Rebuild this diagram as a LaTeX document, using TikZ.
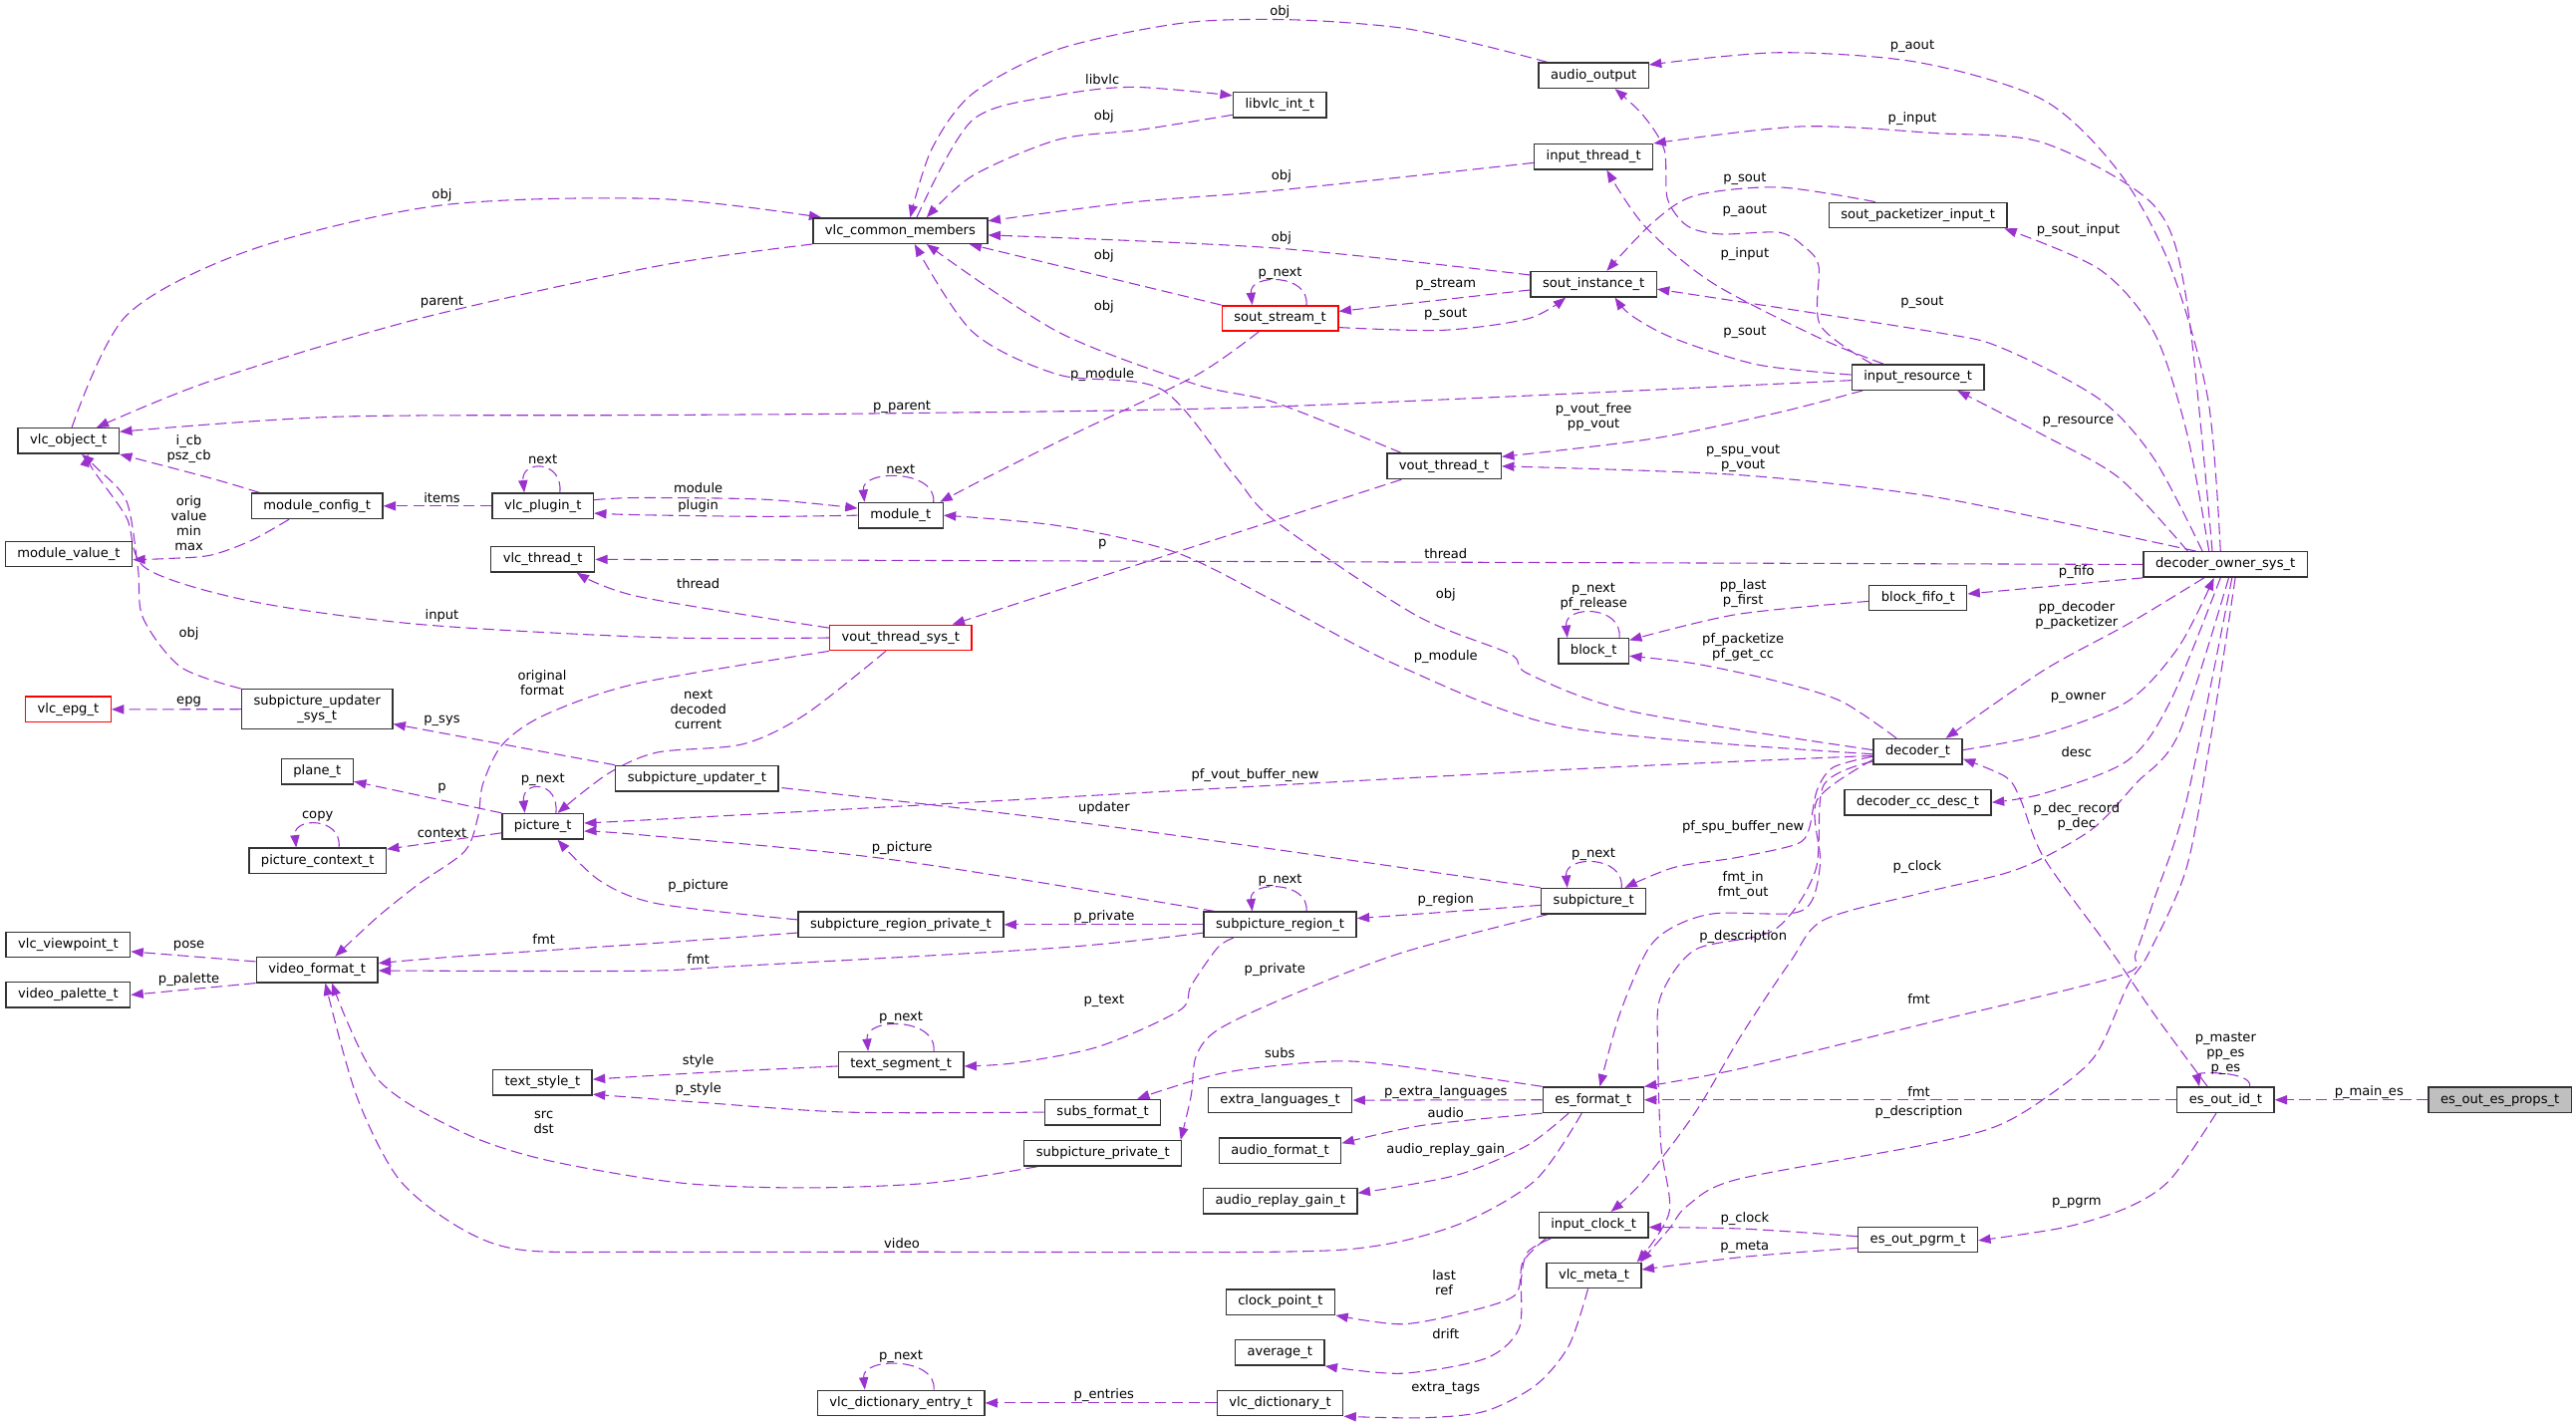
\documentclass[tikz,border=0pt]{standalone}
\usepackage{fontspec}
\setmainfont{DejaVu Sans}
\usetikzlibrary{arrows.meta, backgrounds}
\definecolor{cedge}{HTML}{9A32CD}
\definecolor{cframe}{HTML}{333333}
\definecolor{cred}{HTML}{FF0000}
\definecolor{cgrey}{HTML}{BFBFBF}
\tikzset{
  cls/.style={draw=#1, fill=white, line width=0.85pt, inner xsep=7.3pt, inner ysep=0pt, minimum height=15.4pt, text height=6pt, text depth=1.9pt, align=center},
  cls/.default=cframe,
  ref/.style={draw=cedge, line width=0.65pt, dash pattern=on 6.9pt off 3.3pt, -{Triangle[length=7.5pt, width=5.6pt]}},
  lbl/.style={inner sep=0pt, align=center},
}
\begin{document}
\begin{tikzpicture}[x=1pt, y=-1pt, font=\fontsize{7.95}{9.1}\selectfont]
  \useasboundingbox (0,0) rectangle (1568,867.4);
  % classes
  \foreach \n/\x/\y/\t in {aout/970/46/audio\_output, libvlc/779/63.8/libvlc\_int\_t, inthr/970/95.4/input\_thread\_t,
    vcm/548/140.5/vlc\_common\_members, spi/1167.4/131/sout\_packetizer\_input\_t, sinst/970/173/sout\_instance\_t,
    ires/1167.4/229.6/input\_resource\_t, vobj/41.7/268.4/vlc\_object\_t, vout/879/283.8/vout\_thread\_t,
    mconf/193/308/module\_config\_t, plugin/330.4/308/vlc\_plugin\_t, module/548.2/313.7/module\_t,
    mval/41.8/337.3/module\_value\_t, vthr/330.4/340.5/vlc\_thread\_t, dos/1354.6/343.6/decoder\_owner\_sys\_t,
    bfifo/1167.5/364/block\_fifo\_t, block/970/396.3/block\_t, dec/1167.4/457.5/decoder\_t,
    plane/193.1/469.7/plane\_t, supd/424.2/473.8/subpicture\_updater\_t, ccdesc/1167.4/488.4/decoder\_cc\_desc\_t,
    pic/330.4/503/picture\_t, picctx/193.3/524/picture\_context\_t, subpic/970/548.5/subpicture\_t,
    regpriv/548.3/562.8/subpicture\_region\_private\_t, region/779.2/562.8/subpicture\_region\_t,
    viewp/41.5/575/vlc\_viewpoint\_t, vfmt/193/590.3/video\_format\_t, palette/41.5/605.6/video\_palette\_t,
    tseg/548.4/648/text\_segment\_t, tstyle/330.2/659/text\_style\_t, xlang/779.2/669.7/extra\_languages\_t,
    esfmt/969.8/669.5/es\_format\_t, esid/1354.7/669.5/es\_out\_id\_t, subsfmt/671.2/677/subs\_format\_t,
    afmt/779.2/700.5/audio\_format\_t, spriv/671.3/702/subpicture\_private\_t, again/779.3/731/audio\_replay\_gain\_t,
    iclock/970/745.7/input\_clock\_t, pgrm/1167.4/754.6/es\_out\_pgrm\_t, meta/970.2/776.4/vlc\_meta\_t,
    cpoint/779.4/792.5/clock\_point\_t, avg/779/823.4/average\_t, dentry/548.4/854/vlc\_dictionary\_entry\_t,
    dict/779.2/854/vlc\_dictionary\_t}
    \node[cls] (\n) at (\x,\y) {\t};
  \foreach \n/\x/\y/\t in {sstream/779.2/193.8/sout\_stream\_t, voutsys/548.2/388.2/vout\_thread\_sys\_t, epg/41.5/431.8/vlc\_epg\_t}
    \node[cls=cred] (\n) at (\x,\y) {\t};
  \node[cls, fill=cgrey] (props) at (1521.7,669.5) {es\_out\_es\_props\_t};
  \node[cls, text height=, text depth=, minimum height=24.2pt] (supdsys) at (193,431.7) {subpicture\_updater\\\_sys\_t};

  \begin{scope}[on background layer]
  % vlc_common_members and vlc_object_t
  \draw[ref] plot[smooth] coordinates {([xshift=-28pt]aout.north) (904,28) (853,17) (786,12) (720,14) (644,30) (592,57) (567,91) ([xshift=6pt]vcm.north)} node[lbl] at (779,7) {obj};
  \draw[ref] plot[smooth] coordinates {([xshift=10pt]vcm.north) (592,73) (644,58) (690,53) ([yshift=-2.5pt]libvlc.north west)} node[lbl] at (671,48) {libvlc};
  \draw[ref] plot[smooth] coordinates {([yshift=2pt]libvlc.south west) (694,79) (644,85) (592,107) ([xshift=16pt]vcm.north)} node[lbl] at (672,71) {obj};
  \draw[ref] plot[smooth] coordinates {([yshift=-3.7pt]inthr.west) (776,116) (690,123) ([yshift=6pt]vcm.east)} node[lbl] at (780,107) {obj};
  \draw[ref] plot[smooth] coordinates {([yshift=5.6pt]sinst.west) (776,151) ([yshift=-2.6pt]vcm.east)} node[lbl] at (780,145) {obj};
  \draw[ref] (sstream.north west) -- ([xshift=42pt]vcm.south) node[lbl] at (672,156) {obj};
  \draw[ref] plot[smooth] coordinates {([xshift=-26pt]vout.north) (776,245) (728,234) (644,202) ([xshift=16pt]vcm.south)} node[lbl] at (672,187) {obj};
  \draw[ref] plot[smooth] coordinates {([yshift=1pt]dec.west) (993,433) (930,410) (919,398) (861,374) (776,317) (751,289) (707,237) (644,228) (592,202) ([xshift=8.7pt]vcm.south)} node[lbl] at (880,362) {obj};
  \draw[ref] plot[smooth] coordinates {([xshift=2pt]vobj.north) (77,192) (153,152) (268,125) (400,121) ([xshift=-48pt]vcm.north)} node[lbl] at (269,119) {obj};
  \draw[ref] plot[smooth] coordinates {(vcm.south west) (400,162) (255,194) (128,232) ([xshift=17pt]vobj.north)} node[lbl] at (269,184) {parent};
  \draw[ref] plot[smooth] coordinates {([yshift=-1.9pt]ires.west) (776,247.5) (549,251.5) (388,252.7) (204,253.7) ([yshift=5.6pt]vobj.east)} node[lbl] at (549,248) {p\_parent};
  \draw[ref] plot[smooth] coordinates {([xshift=-35pt]mconf.north) (128,291) (vobj.south east)} node[lbl] at (115,273.5) {i\_cb\\psz\_cb};
  \draw[ref] plot[smooth] coordinates {([xshift=-17pt]mconf.south) (153,329) (128,338) (102,340) ([yshift=-3.4pt]mval.east)} node[lbl] at (115,318.5) {orig\\value\\min\\max};
  \draw[ref] plot[smooth] coordinates {(supdsys.north west) (110,406) (87,376) (84,346) (77,305) (59,285) ([xshift=8pt]vobj.south)} node[lbl] at (115,386) {obj};
  \draw[ref] plot[smooth] coordinates {(voutsys.west) (400,388) (255,380) (153,366) (89,346) (77,315) (56,285) ([xshift=12pt]vobj.south)} node[lbl] at (269,375) {input};
  % modules
  \draw[ref] (plugin.west) -- (mconf.east) node[lbl] at (269,303) {items};
  \draw[ref] plot[smooth] coordinates {([yshift=3.7pt]plugin.east) (388,303) (465,304) ([yshift=4.3pt]module.west)} node[lbl] at (425,297) {module};
  \draw[ref] plot[smooth] coordinates {(module.west) (465,314.4) (388,313.4) ([yshift=-4.4pt]plugin.east)} node[lbl] at (425,308) {plugin};
  \draw[ref] plot[smooth] coordinates {([xshift=-13pt]sstream.south) (728,228.5) (656,263) (600,291) ([xshift=24pt]module.north)} node[lbl] at (671,228) {p\_module};
  \draw[ref] plot[smooth] coordinates {([yshift=-1.5pt]dec.west) (955,443) (853,406) (776,366) (715,336) (644,320) (module.east)} node[lbl] at (880,400) {p\_module};
  % vout
  \draw[ref] ([xshift=-26pt]vout.south) -- ([xshift=31.5pt]voutsys.north) node[lbl] at (671,331) {p};
  \draw[ref] plot[smooth] coordinates {([yshift=6pt]voutsys.west) (388,363) ([xshift=20.6pt]vthr.south)} node[lbl] at (425,355) {thread};
  \draw[ref] (dos.west) -- (vthr.east) node[lbl] at (880,337) {thread};
  \draw[ref] plot[smooth] coordinates {([xshift=-9pt]voutsys.south) (490,435) (452,453) (400,458) (370,471) ([xshift=9pt]pic.north)} node[lbl] at (425,432) {next\\decoded\\current};
  \draw[ref] plot[smooth] coordinates {(voutsys.south west) (388,416) (332,435) (306,453) (294,477) (291,497) (283,518) (255,538) (230,558) ([xshift=11pt]vfmt.north)} node[lbl] at (330,415.5) {original\\format};
  % pictures and subpictures
  \draw[ref] (supd.north west) -- ([yshift=-9pt]supdsys.east) node[lbl] at (269,439) {p\_sys};
  \draw[ref] (supdsys.west) -- (epg.east) node[lbl] at (115,427) {epg};
  \draw[ref] (pic.north west) -- ([yshift=-6pt]plane.east) node[lbl] at (269,480) {p};
  \draw[ref] ([yshift=-4pt]pic.west) -- ([yshift=-1pt]picctx.north east) node[lbl] at (269,507) {context};
  \draw[ref] plot[smooth] coordinates {([yshift=-2.5pt]dec.west) (981,467) (776,478) (562,490) (388,499.4) ([yshift=2pt]pic.east)} node[lbl] at (764,472) {pf\_vout\_buffer\_new};
  \draw[ref] plot[smooth] coordinates {([xshift=7pt]region.north west) (541,523) (388,508) ([yshift=-3pt]pic.east)} node[lbl] at (549,516) {p\_picture};
  \draw[ref] plot[smooth] coordinates {([yshift=3pt]regpriv.west) (400,550) (365,536) ([xshift=9pt]pic.south)} node[lbl] at (425,539) {p\_picture};
  \draw[ref] (region.west) -- (regpriv.east) node[lbl] at (672,558) {p\_private};
  \draw[ref] ([yshift=-2.5pt]subpic.west) -- ([yshift=3.8pt]region.east) node[lbl] at (880,548) {p\_region};
  \draw[ref] plot[smooth] coordinates {(subpic.north west) (776,517) (644,499) (480,480) ([yshift=-5.5pt]supd.east)} node[lbl] at (672,492) {updater};
  \draw[ref] plot[smooth] coordinates {([xshift=-28pt]subpic.south) (853,580) (783,607) (741,627) (728,643) (725,667) ([xshift=-1pt]spriv.north east)} node[lbl] at (776,590) {p\_private};
  \draw[ref] plot[smooth] coordinates {([xshift=-28.5pt]region.south) (741,577) (725,600) (718,615) (669,637) (618,647) ([yshift=-1pt]tseg.east)} node[lbl] at (672,609) {p\_text};
  \draw[ref] plot[smooth] coordinates {([yshift=-1pt]tseg.west) (426.5,653) ([yshift=2pt]tstyle.east)} node[lbl] at (425,646) {style};
  \draw[ref] plot[smooth] coordinates {(subsfmt.west) (516,677) (426,671) ([yshift=1pt]tstyle.south east)} node[lbl] at (425,663) {p\_style};
  % formats
  \draw[ref] plot[smooth] coordinates {(esfmt.north west) (853,649) (810,646) (745,653) ([xshift=21pt]subsfmt.north)} node[lbl] at (779,641) {subs};
  \draw[ref] (esfmt.west) -- (xlang.east) node[lbl] at (880,665) {p\_extra\_languages};
  \draw[ref] plot[smooth] coordinates {(esfmt.south west) (866,685) ([yshift=4.6pt]afmt.east)} node[lbl] at (880,677) {audio};
  \draw[ref] plot[smooth] coordinates {([xshift=-15pt]esfmt.south) (930,697) (891,714) (853,722) ([yshift=4.8pt]again.east)} node[lbl] at (880,700) {audio\_replay\_gain};
  \draw[ref] plot[smooth] coordinates {([xshift=-7pt]esfmt.south) (935,718) (891,744) (840,758) (776,762) (550,762) (400,762) (319,761) (281,748) (243,718) (217,667) ([xshift=5pt]vfmt.south)} node[lbl] at (549,757) {video};
  \draw[ref] plot[smooth] coordinates {([xshift=-40pt]spriv.south) (567,720) (490,723) (414,720) (332,706) (281,689) (230,657) ([xshift=9pt]vfmt.south)} node[lbl] at (331,683) {src\\dst};
  \draw[ref] ([yshift=5pt]vfmt.west) -- ([yshift=-4.2pt]viewp.east) node[lbl] at (115,576) {pose};
  \draw[ref] (vfmt.south west) -- (palette.east) node[lbl] at (115,596.4) {p\_palette};
  \draw[ref] plot[smooth] coordinates {([yshift=-5pt]regpriv.west) (400,574) (281,582) ([yshift=4pt]vfmt.east)} node[lbl] at (331,572) {fmt};
  \draw[ref] plot[smooth] coordinates {([yshift=-5pt]region.west) (643,577) (450,588) (388,591) ([yshift=-0.5pt]vfmt.east)} node[lbl] at (425,584) {fmt};
  % blocks
  \draw[ref] plot[smooth] coordinates {([xshift=-13pt]dec.north) (1121,427) (1083,415) (1032,404) ([yshift=-3pt]block.east)} node[lbl] at (1061,394) {pf\_packetize\\pf\_get\_cc};
  \draw[ref] plot[smooth] coordinates {([yshift=-2pt]bfifo.west) (1057,374) ([yshift=-1.5pt]block.north east)} node[lbl] at (1061,361) {pp\_last\\p\_first};
  % sout and input
  \draw[ref] ([yshift=-3.5pt]sinst.west) -- ([yshift=4.3pt]sstream.east) node[lbl] at (880,173) {p\_stream};
  \draw[ref] plot[smooth] coordinates {([yshift=-5.5pt]sstream.east) (878,201) (930,194) ([xshift=-17pt]sinst.south)} node[lbl] at (880,191.5) {p\_sout};
  \draw[ref] plot[smooth] coordinates {([xshift=-26pt]spi.north) (1083,114) (1032,119) (1006,135.5) ([xshift=8pt]sinst.north)} node[lbl] at (1062,109) {p\_sout};
  \draw[ref] plot[smooth] coordinates {([xshift=-28pt]ires.north) (1108,198) (1107,162) (1098,150) (1083,141.5) (1047,142.5) (1027,137.5) (1015,121) (1013,91) (1000,70) ([xshift=13pt]aout.south)} node[lbl] at (1062,128.4) {p\_aout};
  \draw[ref] plot[smooth] coordinates {([xshift=-21pt]ires.north) (1108,206) (1042,172) (1001,137.5) ([xshift=8pt]inthr.south)} node[lbl] at (1062,155) {p\_input};
  \draw[ref] plot[smooth] coordinates {([yshift=1.5pt]ires.west) (1070,222) (1019,206) (993,192) ([xshift=13pt]sinst.south)} node[lbl] at (1062,202) {p\_sout};
  \draw[ref] plot[smooth] coordinates {([xshift=-33.6pt]ires.south) (1083,251) (1006,267) ([yshift=5.8pt]vout.east)} node[lbl] at (970,254) {p\_vout\_free\\pp\_vout};
  % decoder owner
  \draw[ref] plot[smooth] coordinates {([xshift=-18pt]dos.north) (1250,317) (1168,301) (1057,289) (vout.east)} node[lbl] at (1061,279) {p\_spu\_vout\\p\_vout};
  \draw[ref] plot[smooth] coordinates {([xshift=-3pt]dos.north) (1344,243) (1321,162) (1290,105) (1244,61) (1168,38) (1083,32) ([yshift=6.6pt]aout.east)} node[lbl] at (1164,28) {p\_aout};
  \draw[ref] plot[smooth] coordinates {([xshift=-8pt]dos.north) (1331,183) (1311,125) (1244,87) (1177,81) (1096,77) (inthr.north east)} node[lbl] at (1164,72) {p\_input};
  \draw[ref] plot[smooth] coordinates {([xshift=-10pt]dos.north) (1331,263) (1311,202) (1278,164) ([xshift=-2pt]spi.south east)} node[lbl] at (1265,140) {p\_sout\_input};
  \draw[ref] plot[smooth] coordinates {([xshift=-14pt]dos.north) (1311,279) (1278,243) (1219,212) (1177,202) ([yshift=-3pt]sinst.east)} node[lbl] at (1170,184) {p\_sout};
  \draw[ref] plot[smooth] coordinates {([xshift=-23pt]dos.north) (1290,291) (1244,265) ([xshift=24pt]ires.south)} node[lbl] at (1265,257) {p\_resource};
  \draw[ref] (dos.south west) -- ([yshift=2.5pt]bfifo.east) node[lbl] at (1264,348) {p\_fifo};
  \draw[ref] plot[smooth] coordinates {([xshift=-13pt]dos.south) (1295,380) (1244,408) ([xshift=17pt]dec.north)} node[lbl] at (1264,374.5) {pp\_decoder\\p\_packetizer};
  \draw[ref] plot[smooth] coordinates {([yshift=1pt]dec.east) (1244,447) (1295,427) (1326,394) ([xshift=-7pt]dos.south)} node[lbl] at (1265,425) {p\_owner};
  \draw[ref] plot[smooth] coordinates {([xshift=-3pt]dos.south) (1321,427) (1295,463) (1244,483) (ccdesc.east)} node[lbl] at (1264,458) {desc};
  \draw[ref] plot[smooth] coordinates {([xshift=2pt]dos.south) (1326,447) (1300,477) (1275,503.5) (1244,522) (1219,532) (1168,544) (1110,560) (1090,585) (1060,630) (1032,677) (1001,718) ([xshift=10.6pt]iclock.north)} node[lbl] at (1167,528) {p\_clock};
  \draw[ref] plot[smooth] coordinates {([xshift=4pt]dos.south) (1331,487) (1311,548) (1300,580) (1290,594) (1168,624) (1057,651) (esfmt.north east)} node[lbl] at (1168,608) {fmt};
  \draw[ref] plot[smooth] coordinates {([xshift=6pt]dos.south) (1346,447) (1331,528) (1308,580) (1295,600) (1275,643) (1244,669) (1214,686) (1168,697.5) (1057,718) (1027,734) (1016,748) ([xshift=-1pt]meta.north east)} node[lbl] at (1168,677) {p\_description};
  % decoder
  \draw[ref] plot[smooth] coordinates {([yshift=-3pt]dec.west) (1116,467) (1106,481) (1101,505) (1093,514) (1057,522) (1019,528) ([xshift=19pt]subpic.north)} node[lbl] at (1061,503.5) {pf\_spu\_buffer\_new};
  \draw[ref] plot[smooth] coordinates {([yshift=-5pt]dec.west) (1106,487) (1108,524) (1103,548) (1090,556) (1044,556) (1019,564) (1003,578) (986,617) ([xshift=4pt]esfmt.north)} node[lbl] at (1061,539) {fmt\_in\\fmt\_out};
  \draw[ref] plot[smooth] coordinates {([yshift=-6pt]dec.west) (1110,478) (1105,530) (1080,566) (1032,578) (1011,606) (1009,637) (1011,697) (1016,738) ([xshift=-3pt]meta.north east)} node[lbl] at (1061,570) {p\_description};
  % es_out
  \draw[ref] plot[smooth] coordinates {([xshift=-11pt]esid.north) (1311,617) (1283,576) (1244,522) (1230,487) (1221,473) ([yshift=-4.5pt]dec.east)} node[lbl] at (1264,497) {p\_dec\_record\\p\_dec};
  \draw[ref] plot[smooth] coordinates {([yshift=2pt]pgrm.west) (1062,748) ([yshift=-1.3pt]iclock.east)} node[lbl] at (1062,742) {p\_clock};
  \draw[ref] plot[smooth] coordinates {([yshift=-5pt]pgrm.west) (1062,765) ([yshift=3.6pt]meta.east)} node[lbl] at (1062,759) {p\_meta};
  \draw[ref] plot[smooth] coordinates {([xshift=-5.7pt]esid.south) (1321,718) (1295,735) (1257,747) ([yshift=-0.5pt]pgrm.east)} node[lbl] at (1264,732.5) {p\_pgrm};
  \draw[ref] (esid.west) -- (esfmt.east) node[lbl] at (1168,664.6) {fmt};
  \draw[ref] (props.west) -- (esid.east) node[lbl] at (1442,664.6) {p\_main\_es};
  % clock and meta
  \draw[ref] plot[smooth] coordinates {([xshift=-29pt]iclock.south) (927,768) (922,788.5) (891,799) (853,806) (cpoint.south east)} node[lbl] at (879,781) {last\\ref};
  \draw[ref] plot[smooth] coordinates {([xshift=-26pt]iclock.south) (930,762) (926,778) (924.5,809) (904,827) (853,836) (avg.south east)} node[lbl] at (880,812) {drift};
  \draw[ref] plot[smooth] coordinates {([xshift=-3.6pt]meta.south) (955,819) (935,843) (904,859) (866,863) (dict.south east)} node[lbl] at (880,845) {extra\_tags};
  \draw[ref] (dict.west) -- (dentry.east) node[lbl] at (672,849) {p\_entries};
  % self references
  \foreach \n/\a/\b/\h/\o/\t in {plugin/10.4/-11.3/15/20/next, module/20/-22/15/20/next, sstream/16/-17/14.5/19/p\_next,
    block/15.7/-16/15/24.6/{p\_next\\pf\_release}, pic/8/-11/15/20/p\_next, picctx/13/-13/14/19/copy,
    region/16/-17/14/19/p\_next, subpic/17/-16/15/20/p\_next, tseg/20/-20/15.6/20/p\_next,
    dentry/20/-22/15/20/p\_next, esid/14.7/-16/7/19.7/{p\_master\\pp\_es\\p\_es}}
    \draw[ref] ([xshift=\a pt]\n.north) .. controls +(2,-\h/0.75) and +(-2,-\h/0.75) .. ([xshift=\b pt]\n.north) node[lbl] at ([yshift=\o pt]\n.north) {\t};
  \end{scope}
\end{tikzpicture}
\end{document}
